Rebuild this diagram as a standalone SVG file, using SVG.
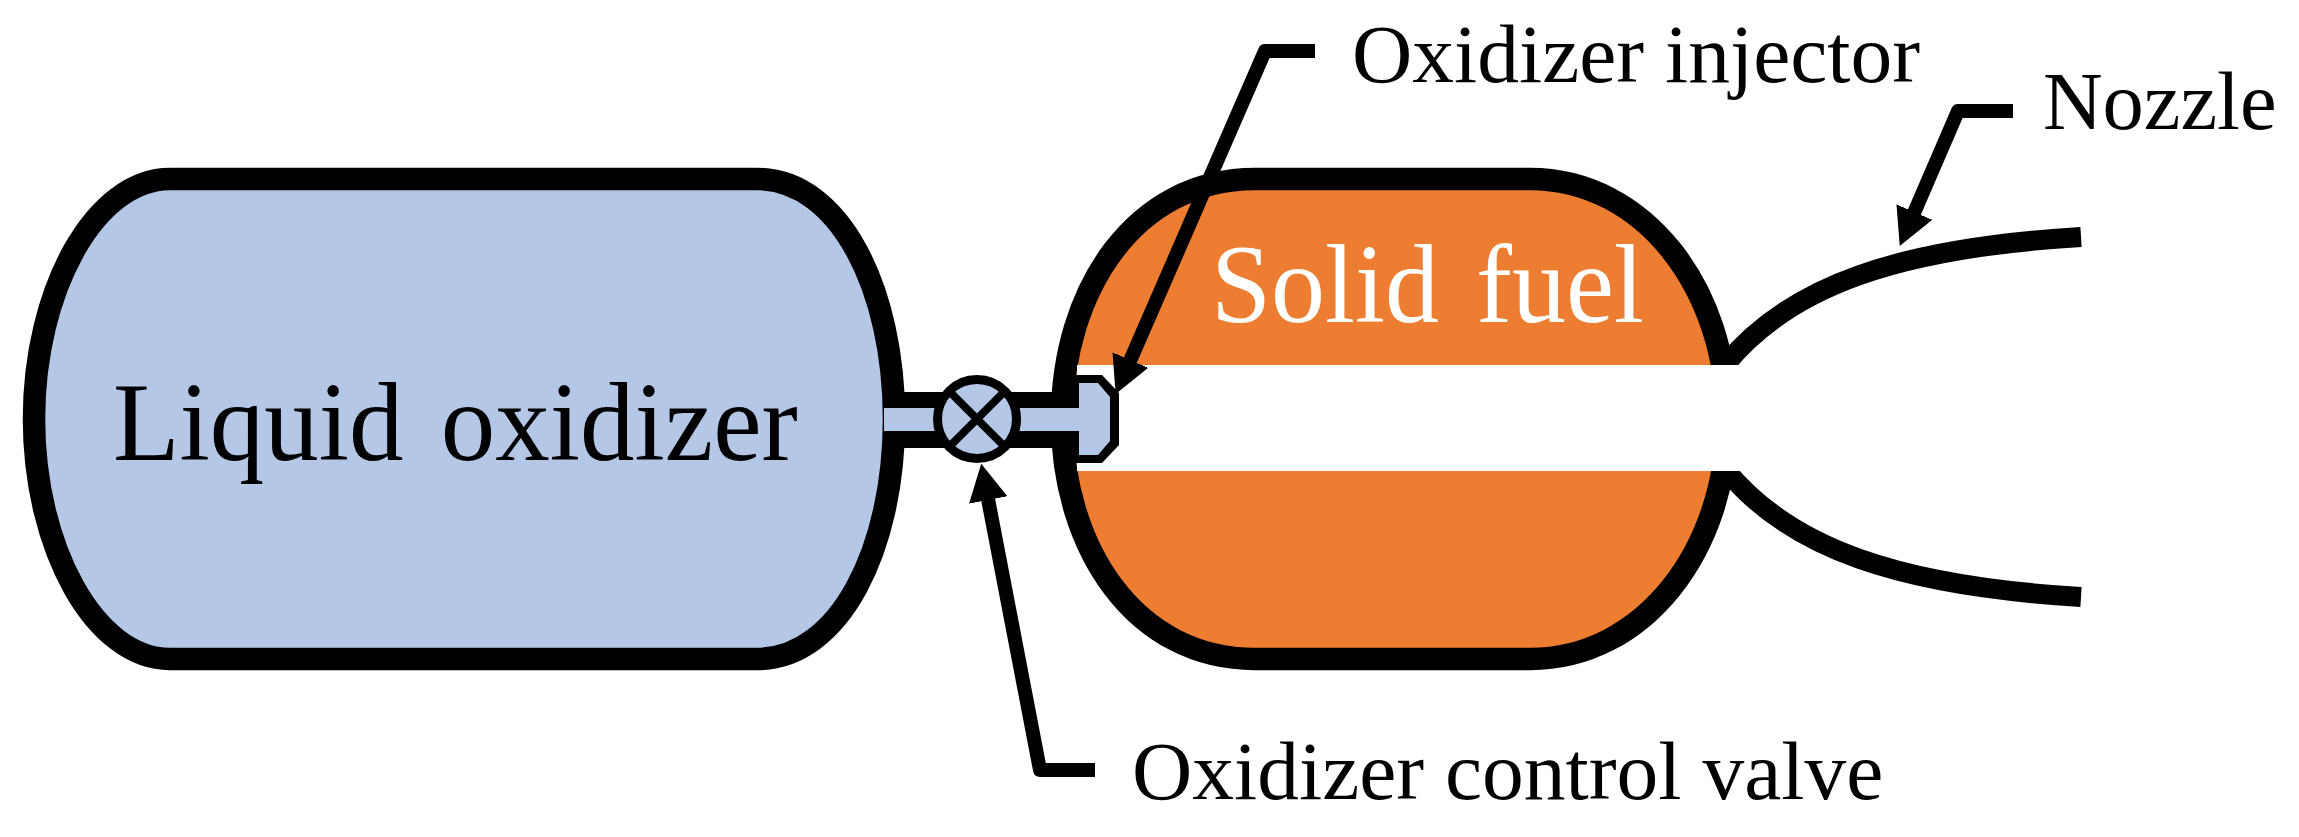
<svg xmlns="http://www.w3.org/2000/svg" width="2299" height="837" viewBox="0 0 2299 837">
<style>
.tank{stroke:#000;stroke-width:22.5}
.line{fill:none;stroke:#000;stroke-width:20}
.lead{fill:none;stroke:#000;stroke-width:14;stroke-linejoin:round;marker-end:url(#head)}
text{font-family:"Liberation Serif","Times New Roman",serif;fill:#000}
</style>
<defs>
<marker id="head" markerUnits="userSpaceOnUse" markerWidth="40" markerHeight="42" refX="1" refY="20" orient="auto"><path d="M0 0.5L37 20L0 39.5Z" fill="#000"/></marker>
</defs>
<rect width="2299" height="837" fill="#fff"/>
<g id="nozzle">
<path class="line" d="M1725 365C1790 285 1900 248 2081 237"/>
<path class="line" d="M1725 469C1790 549 1900 586 2081 597"/>
</g>
<g id="liquid-oxidizer-tank">
<path class="tank" fill="#B4C7E7" d="M170 179H757C840 179 894 290 894 419C894 548 840 659 757 659H170C95 659 34 548 34 419C34 290 95 179 170 179Z"/>
<text transform="translate(113 460) scale(1 1.03)" font-size="109" word-spacing="10">Liquid oxidizer</text>
</g>
<g id="solid-fuel">
<path class="tank" fill="#ED7D31" d="M1255 179H1530C1645 179 1727 290 1727 419C1727 548 1645 659 1530 659H1255C1135 659 1062 548 1062 419C1062 290 1135 179 1255 179Z"/>
<rect x="1077" y="365" width="667" height="106" fill="#fff"/>
<text transform="translate(1211 322) scale(1 1.04)" font-size="108" word-spacing="10" style="fill:#fff">Solid fuel</text>
</g>
<g id="injector">
<path fill="#000" d="M890 392H1073V375H1102L1119 393V445L1102 463H1073V448H890Z"/>
<path fill="#B4C7E7" d="M884 408H1079V383H1098L1110 397V441L1098 455H1079V431H884Z"/>
</g>
<g id="valve">
<circle cx="977" cy="419" r="39.5" fill="#B4C7E7" stroke="#000" stroke-width="9"/>
<path d="M949 391L1005 447M1005 391L949 447" stroke="#000" stroke-width="8" fill="none"/>
</g>
<g id="connectors">
<path class="lead" d="M1315 51H1265L1130 361"/>
<path class="lead" d="M2013 111H1958L1914 213"/>
<path class="lead" d="M1095 770H1040L988 499"/>
</g>
<g id="labels">
<text x="1352" y="82" font-size="83.5">Oxidizer injector</text>
<text x="2043" y="129" font-size="82.5">Nozzle</text>
<text x="1132" y="799" font-size="83.5">Oxidizer control valve</text>
</g>
</svg>
